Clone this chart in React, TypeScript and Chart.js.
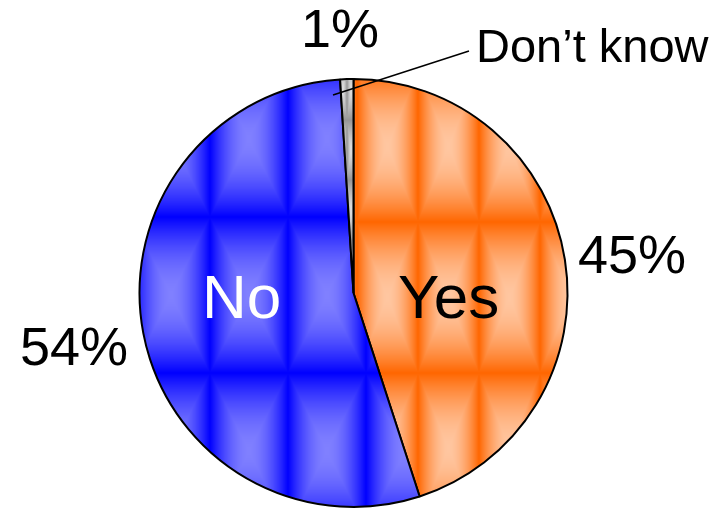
import React, { useEffect, useRef } from "react";
import { Chart, registerables } from "chart.js";

Chart.register(...registerables);

const categories = ["Yes", "No", "Don\u2019t know"];
const values = [45, 54, 1];
const percentLabels = ["45%", "54%", "1%"];

function makeTile(
  w: number,
  h: number,
  light: [number, number, number],
  dark: [number, number, number],
  power: number
): HTMLCanvasElement {
  const c = document.createElement("canvas");
  c.width = w;
  c.height = h;
  const ctx = c.getContext("2d")!;
  const img = ctx.createImageData(w, h);
  for (let y = 0; y < h; y++) {
    for (let x = 0; x < w; x++) {
      const dx = Math.abs(x + 0.5 - w / 2) / (w / 2);
      const dy = Math.abs(y + 0.5 - h / 2) / (h / 2);
      const t = Math.pow(Math.min(1, Math.max(dx, dy)), power);
      const i = (y * w + x) * 4;
      img.data[i] = Math.round(light[0] + (dark[0] - light[0]) * t);
      img.data[i + 1] = Math.round(light[1] + (dark[1] - light[1]) * t);
      img.data[i + 2] = Math.round(light[2] + (dark[2] - light[2]) * t);
      img.data[i + 3] = 255;
    }
  }
  ctx.putImageData(img, 0, 0);
  return c;
}

function makePattern(
  ctx: CanvasRenderingContext2D,
  tile: HTMLCanvasElement,
  ox: number,
  oy: number
): CanvasPattern {
  const p = ctx.createPattern(tile, "repeat")!;
  try {
    p.setTransform(new DOMMatrix().translate(ox, oy));
  } catch (e) {}
  return p;
}

const labelPlugin = {
  id: "pieLabels",
  afterDraw(chart: any) {
    const ctx = chart.ctx as CanvasRenderingContext2D;
    ctx.save();
    ctx.textBaseline = "alphabetic";
    ctx.textAlign = "left";
    const pctFont = "54px 'Liberation Sans', Arial, sans-serif";
    ctx.fillStyle = "#000";
    ctx.font = pctFont;
    ctx.fillText(percentLabels[0], 578, 273);
    ctx.fillText(percentLabels[1], 20, 365);
    ctx.fillText(percentLabels[2], 301, 47);
    ctx.font = "47px 'Liberation Sans', Arial, sans-serif";
    ctx.fillText(categories[2], 476, 62);
    ctx.font = "62px 'Liberation Sans', Arial, sans-serif";
    ctx.fillStyle = "#000";
    ctx.fillText(categories[0], 398, 318);
    ctx.fillStyle = "#fff";
    ctx.fillText(categories[1], 202, 318);
    // leader line
    ctx.strokeStyle = "#000";
    ctx.lineWidth = 1.5;
    ctx.beginPath();
    ctx.moveTo(469, 51);
    ctx.lineTo(333, 95);
    ctx.stroke();
    ctx.restore();
  },
};

export default function App() {
  const ref = useRef<HTMLCanvasElement | null>(null);
  useEffect(() => {
    const canvas = ref.current!;
    const ctx = canvas.getContext("2d")!;
    const blueTile = makeTile(78, 156, [128, 128, 255], [0, 0, 255], 1.8);
    const orangeTile = makeTile(61, 151, [255, 198, 160], [255, 102, 0], 1.8);
    const grayTile = makeTile(8, 60, [225, 225, 225], [150, 150, 150], 1.2);
    const bluePat = makePattern(ctx, blueTile, 54, 61);
    const orangePat = makePattern(ctx, orangeTile, 52, 71);
    const grayPat = makePattern(ctx, grayTile, 3, 0);
    const chart = new Chart(canvas, {
      type: "pie",
      data: {
        labels: categories,
        datasets: [
          {
            data: values,
            backgroundColor: [orangePat, bluePat, grayPat] as any,
            borderColor: "#000",
            borderWidth: 2,
            radius: 214,
          } as any,
        ],
      },
      options: {
        responsive: false,
        animation: false,
        events: [],
        layout: { padding: { left: 0, right: 18, top: 77, bottom: 0 } },
        plugins: {
          legend: { display: false },
          tooltip: { enabled: false },
        },
      },
      plugins: [labelPlugin],
    });
    return () => chart.destroy();
  }, []);
  return (
    <div style={{ position: "fixed", left: 0, top: 0, width: 725, height: 509, background: "#fff" }}>
      <canvas ref={ref} width={725} height={509} style={{ display: "block" }} />
    </div>
  );
}
